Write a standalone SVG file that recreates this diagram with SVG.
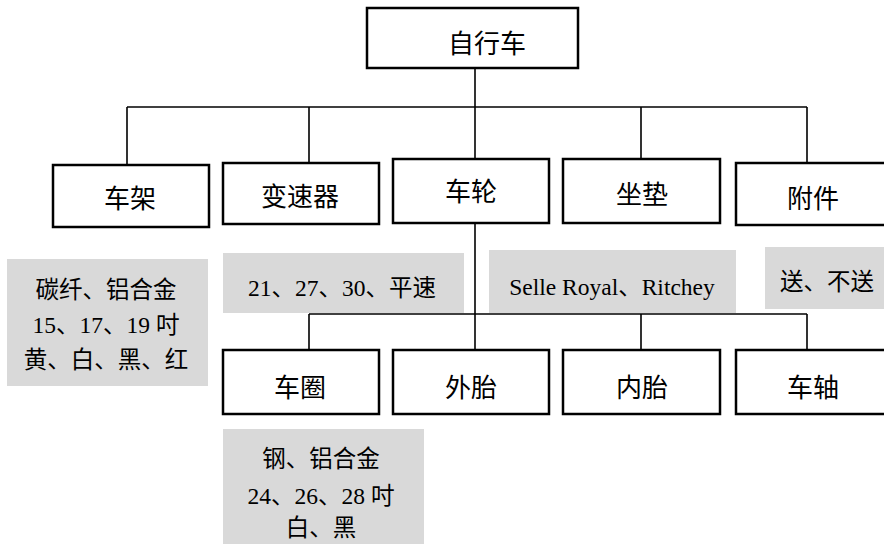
<svg xmlns="http://www.w3.org/2000/svg" width="884" height="553" viewBox="0 0 884 553">
<style>
.box{fill:#fff;stroke:#000;stroke-width:2.5}
.note{fill:#d9d9d9;stroke:none}
.lbl{font-family:"Noto Sans CJK SC","Noto Sans",sans-serif;font-size:26px;fill:#000;text-anchor:middle;dominant-baseline:central}
.nt{font-family:"Liberation Serif","Noto Sans CJK SC",serif;font-size:23.5px;fill:#000;text-anchor:middle;dominant-baseline:central}
.con{fill:none;stroke:#000;stroke-width:1.6}
</style>
<rect width="884" height="553" fill="#fff"/>
<g id="connectors">
<path class="con" d="M475 68V159"/>
<path class="con" d="M127 107H807"/>
<path class="con" d="M127 107V165M309 107V163M641 107V159M807 107V163"/>
<path class="con" d="M475 223V350"/>
<path class="con" d="M309 314H807"/>
<path class="con" d="M309 314V350M641 314V350M807 314V350"/>
</g>
<g id="n-bike"><rect class="box" x="367" y="8" width="211" height="60"/><text class="lbl" x="487" y="41">自行车</text></g>
<g id="n-frame"><rect class="box" x="53" y="165" width="156" height="62"/><text class="lbl" x="130" y="196">车架</text></g>
<g id="n-gear"><rect class="box" x="223" y="163" width="156" height="61"/><text class="lbl" x="300" y="194">变速器</text></g>
<g id="n-wheel"><rect class="box" x="393" y="159" width="156" height="64"/><text class="lbl" x="471" y="189">车轮</text></g>
<g id="n-seat"><rect class="box" x="563" y="159" width="157" height="64"/><text class="lbl" x="642" y="192">坐垫</text></g>
<g id="n-acc"><rect class="box" x="736" y="163" width="170" height="62"/><text class="lbl" x="813" y="196">附件</text></g>
<g id="n-note-frame"><rect class="note" x="7" y="259" width="201" height="127"/>
<text class="nt" x="106" y="290">碳纤、铝合金</text>
<text class="nt" x="106" y="325">15、17、19 吋</text>
<text class="nt" x="106" y="360">黄、白、黑、红</text></g>
<g id="n-note-gear"><rect class="note" x="223" y="253" width="241" height="60"/><text class="nt" x="342" y="288">21、27、30、平速</text></g>
<g id="n-note-seat"><rect class="note" x="489" y="250" width="247" height="63"/><text class="nt" x="612" y="287">Selle Royal、Ritchey</text></g>
<g id="n-note-acc"><rect class="note" x="765" y="247" width="130" height="62"/><text class="nt" x="827" y="282">送、不送</text></g>
<g id="n-rim"><rect class="box" x="223" y="350" width="156" height="64"/><text class="lbl" x="300" y="385">车圈</text></g>
<g id="n-tire"><rect class="box" x="393" y="350" width="156" height="64"/><text class="lbl" x="471" y="385">外胎</text></g>
<g id="n-tube"><rect class="box" x="563" y="350" width="157" height="64"/><text class="lbl" x="642" y="385">内胎</text></g>
<g id="n-axle"><rect class="box" x="736" y="350" width="170" height="64"/><text class="lbl" x="813" y="385">车轴</text></g>
<g id="n-note-rim"><rect class="note" x="223" y="429" width="201" height="115"/>
<text class="nt" x="321" y="459">钢、铝合金</text>
<text class="nt" x="321" y="496">24、26、28 吋</text>
<text class="nt" x="321" y="528">白、黑</text></g>
</svg>
